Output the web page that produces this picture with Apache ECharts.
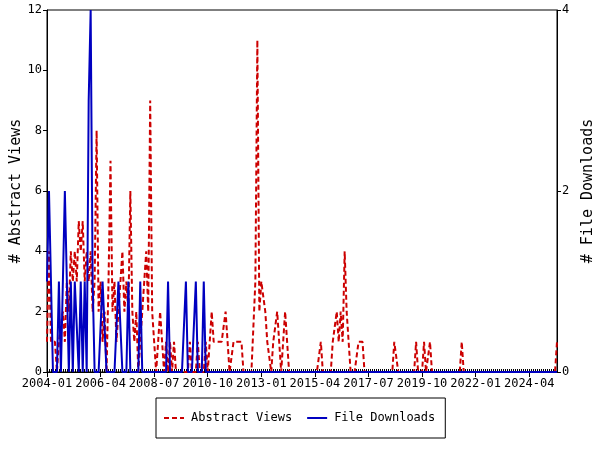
<!DOCTYPE html>
<html><head><meta charset="utf-8">
<script src="https://cdn.jsdelivr.net/npm/echarts@6/dist/echarts.min.js"></script>
<style>html,body{margin:0;padding:0;background:#fff}#c{width:600px;height:450px}</style>
</head><body><div id="c"></div>
<script>
const startYear = 2004, monthCount = 258;
const tickLabels = ['2004-01','2006-04','2008-07','2010-10','2013-01','2015-04','2017-07','2019-10','2022-01','2024-04'];
const abstractViews = [
1,4,1,1,1,0,1,1,2,1,
3,2,4,3,4,3,5,4,5,3,
4,3,4,2,3,8,2,3,1,2,
0,3,7,2,3,1,2,3,4,2,
3,2,6,2,1,2,0,1,2,3,
4,2,9,2,2,0,1,2,1,0,
1,0,1,0,1,0,0,0,0,0,
0,0,1,0,0,0,1,0,0,0,
1,0,1,2,1,1,1,1,1,1,
2,1,0,0,1,1,1,1,1,0,
0,0,0,0,0,3,11,2,3,3,
2,1,1,0,1,1,2,1,0,1,
2,1,0,0,0,0,0,0,0,0,
0,0,0,0,0,0,0,0,1,0,
0,0,0,0,1,1,2,1,2,1,
4,2,1,0,0,0,0,1,1,1,
0,0,0,0,0,0,0,0,0,0,
0,0,0,0,0,1,1,0,0,0,
0,0,0,0,0,0,1,0,0,0,
1,0,0,1,0,0,0,0,0,0,
0,0,0,0,0,0,0,0,0,1,
0,0,0,0,0,0,0,0,0,0,
0,0,0,0,0,0,0,0,0,0,
0,0,0,0,0,0,0,0,0,0,
0,0,0,0,0,0,0,0,0,0,
0,0,0,0,0,0,0,1];
const fileDownloads = [
1,2,1,0,0,0,1,0,1,2,
1,0,1,0,1,1,0,1,0,1,
0,3,4,1,0,0,0,0,1,1,
0,0,0,0,0,0,1,1,0,0,
0,1,0,0,0,0,0,1,0,0,
0,0,0,0,0,0,0,0,0,0,
0,1,0,0,0,0,0,0,0,0,
1,0,0,0,0,1,0,0,0,1,
0,0,0,0,0,0,0,0,0,0,
0,0,0,0,0,0,0,0,0,0,
0,0,0,0,0,0,0,0,0,0,
0,0,0,0,0,0,0,0,0,0,
0,0,0,0,0,0,0,0,0,0,
0,0,0,0,0,0,0,0,0,0,
0,0,0,0,0,0,0,0,0,0,
0,0,0,0,0,0,0,0,0,0,
0,0,0,0,0,0,0,0,0,0,
0,0,0,0,0,0,0,0,0,0,
0,0,0,0,0,0,0,0,0,0,
0,0,0,0,0,0,0,0,0,0,
0,0,0,0,0,0,0,0,0,0,
0,0,0,0,0,0,0,0,0,0,
0,0,0,0,0,0,0,0,0,0,
0,0,0,0,0,0,0,0,0,0,
0,0,0,0,0,0,0,0,0,0,
0,0,0,0,0,0,0,0];
const months = [];
for (let i = 0; i < monthCount; i++) {
  const y = startYear + Math.floor(i / 12), m = i % 12 + 1;
  months.push(y + '-' + (m < 10 ? '0' + m : m));
}
const FONT = '"DejaVu Sans Mono", monospace';
const RED = '#cc0000', BLUE = '#0000c0';
const isTick = (idx, val) => tickLabels.indexOf(months[idx]) >= 0;
const chart = echarts.init(document.getElementById('c'), null, {renderer: 'canvas'});
chart.setOption({
  animation: false,
  backgroundColor: '#fff',
  grid: {left: 47, right: 43, top: 10, bottom: 78, show: true, borderColor: '#000', borderWidth: 1, containLabel: false, outerBoundsMode: 'none'},
  legend: {
    left: 156, top: 398, orient: 'horizontal',
    padding: [14, 10, 14, 7], borderColor: '#000', borderWidth: 1, borderRadius: 0,
    itemWidth: 20, itemHeight: 10, itemGap: 14,
    itemStyle: {opacity: 0},
    textStyle: {fontFamily: FONT, fontSize: 12, color: '#000', padding: [0, 0, 0, 2]},
    data: ['Abstract Views', 'File Downloads']
  },
  xAxis: [{
    type: 'category', data: months, boundaryGap: false, position: 'bottom',
    axisLine: {show: true, lineStyle: {color: '#000', width: 1}},
    axisTick: {show: true, interval: isTick, length: 5, lineStyle: {color: '#000'}},
    axisLabel: {interval: isTick, fontFamily: FONT, fontSize: 12, color: '#000', margin: 6},
    splitLine: {show: false}
  }, {
    type: 'category', data: months, boundaryGap: false, position: 'bottom',
    axisLine: {show: false},
    axisTick: {show: true, interval: 0, inside: true, length: 3, lineStyle: {color: '#000'}},
    axisLabel: {show: false}, splitLine: {show: false}
  }],
  yAxis: [{
    type: 'value', min: 0, max: 12, interval: 2, position: 'left',
    name: '# Abstract Views', nameLocation: 'middle', nameGap: 23, nameRotate: 90, nameMoveOverlap: false,
    nameTextStyle: {fontFamily: FONT, fontSize: 15, color: '#000'},
    axisLine: {show: true, lineStyle: {color: '#000'}},
    axisTick: {show: true, length: 4, lineStyle: {color: '#000'}},
    axisLabel: {fontFamily: FONT, fontSize: 12, color: '#000', margin: 5},
    splitLine: {show: false}
  }, {
    type: 'value', min: 0, max: 4, interval: 2, position: 'right',
    name: '# File Downloads', nameLocation: 'middle', nameGap: 21, nameRotate: 90,
    nameTextStyle: {fontFamily: FONT, fontSize: 15, color: '#000'},
    axisLine: {show: true, lineStyle: {color: '#000'}},
    axisTick: {show: true, length: 4, lineStyle: {color: '#000'}},
    axisLabel: {fontFamily: FONT, fontSize: 12, color: '#000', margin: 5},
    splitLine: {show: false}
  }],
  series: [{
    name: 'Abstract Views', type: 'line', data: abstractViews, xAxisIndex: 0, yAxisIndex: 0,
    symbol: 'none', color: RED, lineStyle: {color: RED, width: 2, type: [5, 3]}, z: 2
  }, {
    name: 'File Downloads', type: 'line', data: fileDownloads, xAxisIndex: 0, yAxisIndex: 1,
    symbol: 'none', color: BLUE, lineStyle: {color: BLUE, width: 2}, z: 3
  }]
});
</script></body></html>
